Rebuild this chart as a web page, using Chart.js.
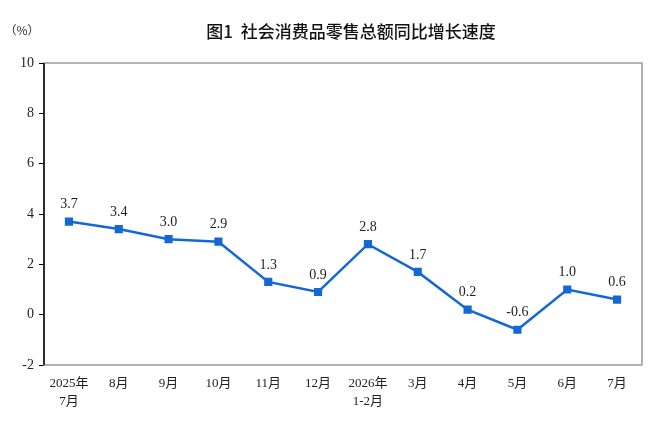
<!DOCTYPE html>
<html>
<head>
<meta charset="utf-8">
<script src="https://cdn.jsdelivr.net/npm/chart.js@4"></script>
<style>
  html, body { margin: 0; padding: 0; background: #fff; }
  #wrap { width: 669px; height: 435px; position: relative; }
</style>
</head>
<body>
<div id="wrap"><canvas id="chart" width="669" height="435"></canvas></div>
<script>
const categories = [
  ['2025年', '7月'], '8月', '9月', '10月', '11月', '12月',
  ['2026年', '1-2月'], '3月', '4月', '5月', '6月', '7月'
];
const growthRate = [3.7, 3.4, 3.0, 2.9, 1.3, 0.9, 2.8, 1.7, 0.2, -0.6, 1.0, 0.6];
const yTicks = [-2, 0, 2, 4, 6, 8, 10];

const title = '图1  社会消费品零售总额同比增长速度';
const unitLabel = '（%）';
const lineColor = 'rgb(20, 104, 214)';
const serif = '"Liberation Serif", "Noto Sans CJK SC", serif';

// frame, title and value labels
const decorPlugin = {
  id: 'decor',
  beforeDatasetsDraw(chart) {
    const {ctx, chartArea: {left, top, right, bottom}} = chart;
    ctx.save();
    ctx.strokeStyle = '#9a9a9a';
    ctx.lineWidth = 1.5;
    ctx.strokeRect(left, top, right - left, bottom - top);
    ctx.strokeStyle = '#000';
    ctx.lineWidth = 1.5;
    ctx.beginPath();
    ctx.moveTo(left, top);
    ctx.lineTo(left, bottom);
    ctx.stroke();
    ctx.restore();
  },
  afterDraw(chart) {
    const {ctx} = chart;
    ctx.save();
    ctx.fillStyle = '#111';
    ctx.textAlign = 'center';
    ctx.textBaseline = 'middle';
    ctx.font = '500 17px "Noto Sans CJK SC", sans-serif';
    ctx.fillText(title, 351, 32);
    ctx.font = '12px "Noto Sans CJK SC", serif';
    ctx.fillStyle = '#333';
    ctx.fillText(unitLabel, 22, 30);

    const meta = chart.getDatasetMeta(0);
    ctx.font = '14px ' + serif;
    ctx.fillStyle = '#222';
    meta.data.forEach((pt, i) => {
      const v = growthRate[i];
      ctx.fillText(v.toFixed(1), pt.x, pt.y - 17);
    });
    ctx.restore();
  }
};

new Chart(document.getElementById('chart'), {
  type: 'line',
  plugins: [decorPlugin],
  data: {
    labels: categories,
    datasets: [{
      data: growthRate,
      borderColor: lineColor,
      backgroundColor: lineColor,
      borderWidth: 2.5,
      pointStyle: 'rect',
      pointRadius: 4,
      pointHoverRadius: 4,
      tension: 0,
      fill: false
    }]
  },
  options: {
    responsive: false,
    animation: false,
    layout: { padding: { top: 63, right: 27, left: 0, bottom: 0 } },
    plugins: {
      legend: { display: false },
      tooltip: { enabled: false }
    },
    scales: {
      x: {
        offset: true,
        grid: { display: false, drawTicks: false },
        border: { display: false },
        afterFit(scale) { scale.height = 70; },
        ticks: {
          maxRotation: 0,
          autoSkip: false,
          padding: 9,
          color: '#222',
          font: { family: serif, size: 13, lineHeight: 1.4 }
        }
      },
      y: {
        min: -2,
        max: 10,
        afterFit(scale) { scale.width = 44; },
        afterBuildTicks(scale) { scale.ticks = yTicks.map(v => ({ value: v })); },
        grid: {
          drawOnChartArea: false,
          drawTicks: true,
          tickLength: 5,
          color: '#000'
        },
        border: { display: false },
        ticks: {
          padding: 5,
          color: '#222',
          font: { family: serif, size: 14 }
        }
      }
    }
  }
});
</script>
</body>
</html>
